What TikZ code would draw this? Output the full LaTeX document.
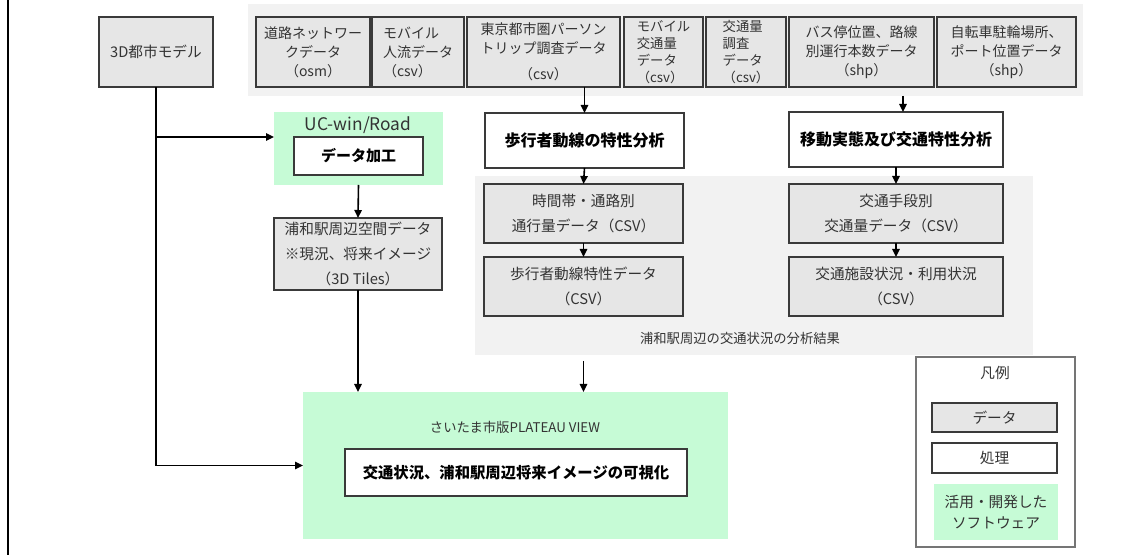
\documentclass[tikz,border=0pt]{standalone}
\usepackage{fontspec}
\setmainfont{Noto Sans CJK JP}
\usetikzlibrary{arrows.meta}
\definecolor{dgrey}{HTML}{E6E6E6}
\definecolor{pgrey}{HTML}{F2F2F2}
\definecolor{softg}{HTML}{C6FBD6}
\definecolor{edge}{HTML}{3A3A3A}
\definecolor{txt}{HTML}{333333}
\newcommand\fsz[2]{\fontsize{#1}{#2}\selectfont}
\begin{document}
\begin{tikzpicture}[x=0.75pt,y=-0.75pt,
  rect/.style args={#1/#2/#3/#4}{minimum width={(#3-#1)*0.75pt}, minimum height={(#4-#2)*0.75pt}, at={({(#1+#3)/2},{(#2+#4)/2})}},
  box/.style={inner sep=0pt, outer sep=0pt, align=center},
  databox/.style={box, draw=edge, fill=dgrey, line width=1.1pt, text=txt},
  procbox/.style={box, draw=edge, fill=white, line width=1.1pt, text=black},
  panel/.style={box, fill=pgrey},
  softbox/.style={box, fill=softg},
  topf/.style={font=\fsz{10.5}{14.25}},
  topsm/.style={font=\fsz{10}{12.75}, align=left},
  midf/.style={font=\fsz{11}{18.75}},
  conn/.style={line width=1.2pt, draw=black},
  arr/.style={conn, -{Triangle[length=6pt,width=5.5pt]}},
]
\useasboundingbox (0,0) rectangle (1140,555);
\fill[white] (0,0) rectangle (1140,555);
\draw[line width=1.5pt] (8,0) -- (8,555);

% panels
\node[panel, rect=248/4/1083/96] (toppanel) {};
\node[panel, rect=475/176/1033/355] (lowpanel) {};
\node[softbox, rect=274/112/443/185] (uc) {};
\node[softbox, rect=303/392/728/539] (plat) {};

% top row
\node[databox, rect=99/17/213/87, font=\fsz{11}{14}] (city) {3D都市モデル};
\node[databox, topf, rect=256/17/370/87] (road) {道路ネットワー\\クデータ\\（osm）};
\node[databox, topf, align=left, rect=372/17/464/87] (mob) {モバイル\\人流データ\\（csv）};
\node[databox, topf, rect=467/17/620/87] (tokyo) {東京都市圏パーソン\\トリップ調査データ\\[5pt]（csv）};
\node[databox, topsm, rect=624/17/703/87] (mobt) {モバイル\\交通量\\データ\\（csv）};
\node[databox, topsm, rect=706/17/786/87] (survey) {交通量\\調査\\データ\\（csv）};
\node[databox, topf, rect=789/17/934/87] (bus) {バス停位置、路線\\別運行本数データ\\（shp）};
\node[databox, topf, rect=937/17/1076/87] (bike) {自転車駐輪場所、\\ポート位置データ\\（shp）};

% labels
\node[text=txt, font=\fsz{13}{15}] (uclab) at (358,125) {UC-win/Road};
\node[text=txt, font=\fsz{10}{12}] (plab) at (515,427) {さいたま市版PLATEAU VIEW};
\node[text=txt, font=\fsz{10}{12}] (lplab) at (740,338) {浦和駅周辺の交通状況の分析結果};

% process boxes
\node[procbox, font=\fsz{12}{14}\bfseries, rect=485/113/684/168] (ped) {歩行者動線の特性分析};
\node[procbox, font=\fsz{12}{14}\bfseries, rect=789/112/1003/167] (mv) {移動実態及び交通特性分析};
\node[procbox, font=\fsz{11.25}{13}\bfseries, rect=294/137/423/175] (proc) {データ加工};
\node[procbox, font=\fsz{11.5}{13}\bfseries, rect=345/449/687/496] (vis) {交通状況、浦和駅周辺将来イメージの可視化};

% middle data boxes
\node[databox, midf, rect=274/218/442/290] (tiles) {浦和駅周辺空間データ\\※現況、将来イメージ\\（3D Tiles）};
\node[databox, midf, rect=484/184/683/243] (tb1) {時間帯・通路別\\通行量データ（CSV）};
\node[databox, midf, rect=484/257/683/316] (tb2) {歩行者動線特性データ\\（CSV）};
\node[databox, midf, rect=789/184/1003/243] (tm1) {交通手段別\\交通量データ（CSV）};
\node[databox, midf, rect=789/257/1003/316] (tm2) {交通施設状況・利用状況\\（CSV）};

% legend
\node[box, draw=edge!70, fill=white, line width=0.8pt, rect=916/357/1075/547] (legend) {};
\node[text=txt, font=\fsz{11}{13}] (legt) at (995,373) {凡例};
\node[databox, line width=0.8pt, font=\fsz{11}{13}, rect=932/403/1057/432] (legd) {データ};
\node[box, draw=edge, fill=white, line width=0.8pt, text=txt, font=\fsz{11}{13}, rect=932/443/1057/473] (legp) {処理};
\node[softbox, text=txt, font=\fsz{11}{16}, rect=934/484/1058/540] (legs) {活用・開発した\\ソフトウェア};

% connectors
\coordinate (y137) at (0,137);
\coordinate (mvx) at (903,0);
\coordinate (j1) at (city.south |- y137);
\draw[arr] (city.south) |- (plat.west);
\draw[arr] (j1) -- (j1 -| uc.west);
\draw[arr] (uc.south) -- (tiles.north);
\draw[arr] (tiles.south) -- (tiles.south |- plat.north);
\draw[arr] (tokyo.south -| ped.north) -- (ped.north);
\draw[arr] (ped.south) -- (tb1.north);
\draw[arr] (tb1.south) -- (tb2.north);
\draw[arr, shorten <=4.5pt] (lowpanel.south -| tb2.south) -- (tb2.south |- plat.north);
\draw[arr] (toppanel.south -| mvx) -- (mvx |- mv.north);
\draw[arr] (mv.south) -- (tm1.north);
\draw[arr] (tm1.south) -- (tm2.north);
\end{tikzpicture}
\end{document}
